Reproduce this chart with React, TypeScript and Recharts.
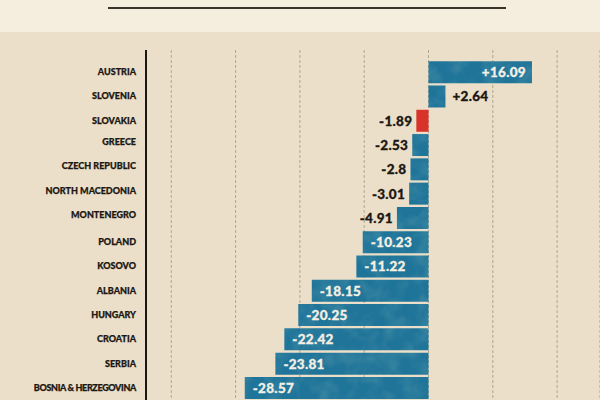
import { Bar, BarChart, CartesianGrid, Cell, LabelList, ReferenceLine, XAxis, YAxis } from "recharts";

const countries = [
  "AUSTRIA",
  "SLOVENIA",
  "SLOVAKIA",
  "GREECE",
  "CZECH REPUBLIC",
  "NORTH MACEDONIA",
  "MONTENEGRO",
  "POLAND",
  "KOSOVO",
  "ALBANIA",
  "HUNGARY",
  "CROATIA",
  "SERBIA",
  "BOSNIA & HERZEGOVINA",
];
const changes = [16.09, 2.64, -1.89, -2.53, -2.8, -3.01, -4.91, -10.23, -11.22, -18.15, -20.25, -22.42, -23.81, -28.57];
const changeLabels = ["+16.09", "+2.64", "-1.89", "-2.53", "-2.8", "-3.01", "-4.91", "-10.23", "-11.22", "-18.15", "-20.25", "-22.42", "-23.81", "-28.57"];
const gridTicks = [-40, -30, -20, -10, 0, 10, 20];
const highlightCountry = "SLOVAKIA";

const rows = countries.map((name, i) => ({ name, change: changes[i], label: changeLabels[i] }));

const font = "Lato, 'Open Sans', sans-serif";
const red = "#d8322a";
const ink = "#1b1712";

function ValueLabel(props: any) {
  const { x, y, width, height, index } = props;
  const v = changes[index];
  const left = Math.min(x, x + width);
  const right = Math.max(x, x + width);
  const inside = Math.abs(v) >= 10;
  let tx = 0;
  let anchor: "start" | "end" = "start";
  if (inside) {
    tx = v > 0 ? right - 6 : left + 8;
    anchor = v > 0 ? "end" : "start";
  } else {
    tx = v > 0 ? right + 7 : left - 4;
    anchor = v > 0 ? "start" : "end";
  }
  const fill = inside ? "#f4efe4" : ink;
  return (
    <text
      x={tx}
      y={y + height / 2 + 5}
      textAnchor={anchor}
      fontFamily={font}
      fontWeight={900}
      fontSize={13.5}
      letterSpacing={0.3}
      fill={fill}
      stroke={fill}
      strokeWidth={0.3}
    >
      {changeLabels[index]}
    </text>
  );
}

function CountryTick(props: any) {
  // the middle labels sit a little above their bars in the original
  const lift = props.index >= 3 && props.index <= 6 ? 3 : 0;
  return (
    <text
      x={136}
      y={props.y + 3 - lift}
      textAnchor="end"
      fontFamily={font}
      fontWeight={900}
      fontSize={9}
      letterSpacing={props.payload.value.length > 16 ? -0.35 : 0}
      fill={ink}
      stroke={ink}
      strokeWidth={0.25}
    >
      {props.payload.value}
    </text>
  );
}

export default function App() {
  return (
    <div style={{ position: "absolute", left: 0, top: 0, width: 600, height: 400, overflow: "hidden", background: "#ecdfc9" }}>
      <div style={{ position: "absolute", left: 0, top: 0, width: 600, height: 32, background: "#f5eddd" }} />
      <div style={{ position: "absolute", left: 108, top: 7, width: 398, height: 2, background: "#39342a" }} />
      <div style={{ position: "absolute", left: 0, top: 0 }}>
        <BarChart
          width={600}
          height={400}
          data={rows}
          layout="vertical"
          margin={{ top: 50, right: 0, bottom: 0, left: 0 }}
          barCategoryGap={1.2}
        >
          <defs>
            <filter id="mottle" x="0" y="0" width="100%" height="100%">
              <feTurbulence type="fractalNoise" baseFrequency="0.06" numOctaves="3" seed="4" />
              <feColorMatrix values="0 0 0 0 0.06  0 0 0 0 0.27  0 0 0 0 0.38  0 0 0 1.4 -0.55" />
            </filter>
            <pattern id="mapTeal" patternUnits="userSpaceOnUse" width="300" height="200">
              <rect width="300" height="200" fill="#1f7499" />
              <rect width="300" height="200" filter="url(#mottle)" />
            </pattern>
          </defs>
          <CartesianGrid horizontal={false} stroke="#b0a690" strokeDasharray="3 2" />
          <XAxis type="number" domain={[-43.93, 26.67]} ticks={gridTicks} hide />
          <YAxis
            type="category"
            dataKey="name"
            interval={0}
            width={146}
            padding={{ top: 10, bottom: 0 }}
            axisLine={false}
            tickLine={false}
            tick={CountryTick}
          />
          <ReferenceLine x={-43.93} stroke="#1b1712" strokeWidth={2} />
          <Bar dataKey="change" isAnimationActive={false} fill="url(#mapTeal)">
            {rows.map((r) => (
              <Cell key={r.name} fill={r.name === highlightCountry ? red : "url(#mapTeal)"} />
            ))}
            <LabelList dataKey="label" content={ValueLabel} />
          </Bar>
        </BarChart>
      </div>
    </div>
  );
}
